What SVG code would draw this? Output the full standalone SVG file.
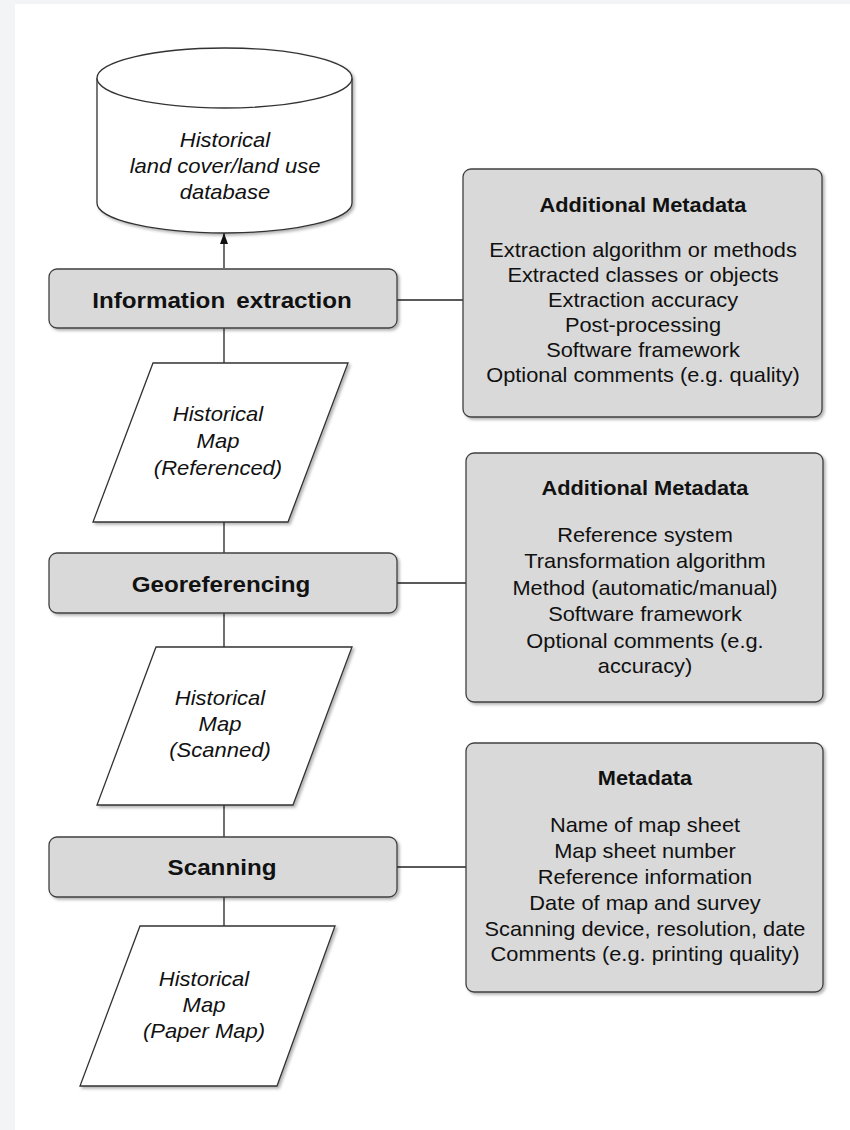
<svg xmlns="http://www.w3.org/2000/svg" width="850" height="1130" viewBox="0 0 850 1130">
<style>
.t{font-family:"Liberation Sans",Arial,sans-serif;fill:#111;text-anchor:middle}
.it{font-size:20px;font-style:italic}
.pb{font-size:22px;font-weight:bold}
.mt{font-size:20px;font-weight:bold}
.ml{font-size:20px}
.proc{fill:#d9d9d9;stroke:#404040;stroke-width:1.3}
.data{fill:#fff;stroke:#333;stroke-width:1.3}
.meta{fill:#d9d9d9;stroke:#404040;stroke-width:1.3}
.con{stroke:#222;stroke-width:1.3;fill:none}
</style>
<defs>
<filter id="sh" x="-10%" y="-10%" width="130%" height="130%">
<feDropShadow dx="2" dy="2" stdDeviation="1.5" flood-color="#000" flood-opacity="0.3"/>
</filter>
<marker id="arr" markerWidth="11" markerHeight="8" refX="11" refY="4" orient="auto" markerUnits="userSpaceOnUse" viewBox="0 0 11 8">
<path d="M0,0 L11,4 L0,8 Z" fill="#111"/>
</marker>
</defs>
<rect x="0" y="0" width="850" height="1130" fill="#f3f4f6"/>
<rect x="15" y="4" width="835" height="1126" fill="#fff"/>

<g id="connectors">
<line class="con" x1="224" y1="268" x2="224" y2="233" marker-end="url(#arr)"/>
<line class="con" x1="224" y1="328" x2="224" y2="363"/>
<line class="con" x1="224" y1="522" x2="224" y2="553"/>
<line class="con" x1="224" y1="613" x2="224" y2="647"/>
<line class="con" x1="224" y1="805" x2="224" y2="837"/>
<line class="con" x1="224" y1="897" x2="224" y2="926"/>
<line class="con" x1="397" y1="300" x2="463" y2="300"/>
<line class="con" x1="397" y1="583" x2="466" y2="583"/>
<line class="con" x1="397" y1="867" x2="466" y2="867"/>
</g>

<g id="database">
<path class="data" filter="url(#sh)" d="M97,78 L97,203 A127.5,30 0 0 0 352,203 L352,78 A127.5,30 0 0 0 97,78 Z"/>
<path class="data" d="M97,78 A127.5,30 0 0 0 352,78" fill="none"/>
<g class="t it" transform="translate(225,0) scale(1.1,1)">
<text x="0" y="147">Historical</text>
<text x="0" y="173">land cover/land use</text>
<text x="0" y="199">database</text>
</g>
</g>

<g id="info-extraction">
<rect class="proc" filter="url(#sh)" x="49" y="269" width="348" height="59" rx="8"/>
<g class="t pb" transform="translate(222,0) scale(1.1,1)">
<text x="0" y="308" word-spacing="4">Information extraction</text>
</g>
</g>

<g id="map-referenced">
<polygon class="data" filter="url(#sh)" points="153,363 348,363 288,522 93,522"/>
<g class="t it" transform="translate(218,0) scale(1.1,1)">
<text x="0" y="421">Historical</text>
<text x="0" y="448">Map</text>
<text x="0" y="475">(Referenced)</text>
</g>
</g>

<g id="georeferencing">
<rect class="proc" filter="url(#sh)" x="49" y="553" width="348" height="60" rx="8"/>
<g class="t pb" transform="translate(221,0) scale(1.1,1)">
<text x="0" y="592">Georeferencing</text>
</g>
</g>

<g id="map-scanned">
<polygon class="data" filter="url(#sh)" points="156,647 352,647 293,805 97,805"/>
<g class="t it" transform="translate(220,0) scale(1.1,1)">
<text x="0" y="705">Historical</text>
<text x="0" y="731">Map</text>
<text x="0" y="757">(Scanned)</text>
</g>
</g>

<g id="scanning">
<rect class="proc" filter="url(#sh)" x="49" y="837" width="348" height="60" rx="8"/>
<g class="t pb" transform="translate(222,0) scale(1.1,1)">
<text x="0" y="875">Scanning</text>
</g>
</g>

<g id="map-paper">
<polygon class="data" filter="url(#sh)" points="140,926 335,926 277,1086 80,1086"/>
<g class="t it" transform="translate(204,0) scale(1.1,1)">
<text x="0" y="986">Historical</text>
<text x="0" y="1012">Map</text>
<text x="0" y="1038">(Paper Map)</text>
</g>
</g>

<g id="meta-extraction">
<rect class="meta" filter="url(#sh)" x="463" y="169" width="359" height="248" rx="8"/>
<g class="t" transform="translate(643,0) scale(1.09,1)">
<text class="mt" x="0" y="212">Additional Metadata</text>
<text class="ml" x="0" y="257">Extraction algorithm or methods</text>
<text class="ml" x="0" y="282">Extracted classes or objects</text>
<text class="ml" x="0" y="307">Extraction accuracy</text>
<text class="ml" x="0" y="332">Post-processing</text>
<text class="ml" x="0" y="357">Software framework</text>
<text class="ml" x="0" y="382">Optional comments (e.g. quality)</text>
</g>
</g>

<g id="meta-georef">
<rect class="meta" filter="url(#sh)" x="466" y="453" width="357" height="249" rx="8"/>
<g class="t" transform="translate(645,0) scale(1.09,1)">
<text class="mt" x="0" y="495">Additional Metadata</text>
<text class="ml" x="0" y="542">Reference system</text>
<text class="ml" x="0" y="568">Transformation algorithm</text>
<text class="ml" x="0" y="595">Method (automatic/manual)</text>
<text class="ml" x="0" y="621">Software framework</text>
<text class="ml" x="0" y="648">Optional comments (e.g.</text>
<text class="ml" x="0" y="673">accuracy)</text>
</g>
</g>

<g id="meta-scanning">
<rect class="meta" filter="url(#sh)" x="466" y="743" width="357" height="249" rx="8"/>
<g class="t" transform="translate(645,0) scale(1.09,1)">
<text class="mt" x="0" y="785">Metadata</text>
<text class="ml" x="0" y="832">Name of map sheet</text>
<text class="ml" x="0" y="858">Map sheet number</text>
<text class="ml" x="0" y="884">Reference information</text>
<text class="ml" x="0" y="910">Date of map and survey</text>
<text class="ml" x="0" y="936">Scanning device, resolution, date</text>
<text class="ml" x="0" y="961">Comments (e.g. printing quality)</text>
</g>
</g>
</svg>
